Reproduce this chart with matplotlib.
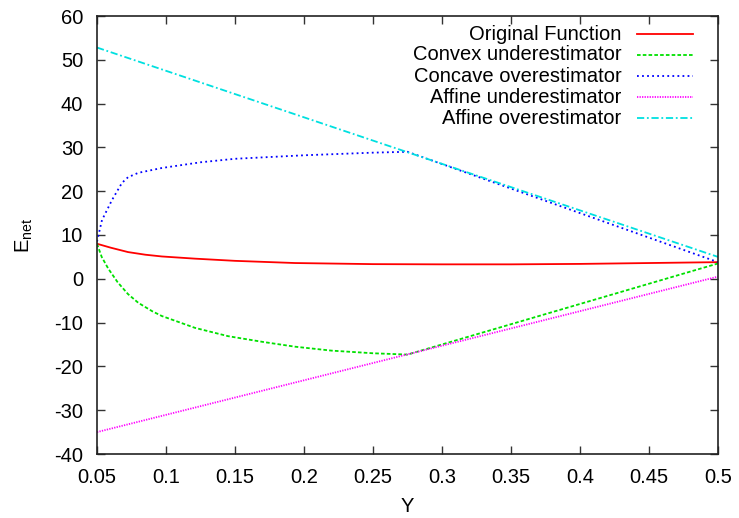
import matplotlib
matplotlib.use("Agg")
import matplotlib.pyplot as plt
from matplotlib.lines import Line2D

plt.rcParams['font.family'] = ['Liberation Sans', 'DejaVu Sans']
plt.rcParams['axes.unicode_minus'] = False

# values
y_orig = [0.05, 0.06, 0.0725, 0.085, 0.097, 0.121, 0.15, 0.1935, 0.25, 0.3, 0.35, 0.4, 0.45, 0.5]
e_orig = [8.0, 7.1, 6.1, 5.5, 5.1, 4.6, 4.1, 3.6, 3.35, 3.3, 3.3, 3.4, 3.6, 3.8]

y_convex = [0.05, 0.0534, 0.0582, 0.065, 0.0725, 0.08, 0.09, 0.097, 0.121, 0.145, 0.17,
            0.1935, 0.22, 0.25, 0.275, 0.5]
e_convex = [8.0, 5.0, 2.3, -0.8, -3.5, -5.5, -7.4, -8.5, -11.2, -13.1, -14.4,
            -15.5, -16.4, -17.0, -17.3, 3.5]

y_concave = [0.05, 0.0536, 0.0609, 0.0681, 0.0725, 0.08, 0.097, 0.125, 0.15, 0.2, 0.25, 0.275, 0.5]
e_concave = [8.5, 13.4, 18.0, 21.9, 23.2, 24.2, 25.3, 26.6, 27.4, 28.2, 28.8, 29.0, 3.8]

y_aff = [0.05, 0.5]
e_aff_under = [-35.0, 0.5]
e_aff_over = [52.8, 5.0]

labels = ["Original Function", "Convex underestimator", "Concave overestimator",
          "Affine underestimator", "Affine overestimator"]

fig = plt.figure(figsize=(7.39, 5.18), dpi=100)
ax = fig.add_axes([97 / 739, 1 - 454 / 518, 621 / 739, 438 / 518])

styles = [
    dict(color='#ff0000', linestyle='-'),
    dict(color='#00e000', linestyle=(0, (2, 1.2))),
    dict(color='#0000ff', linestyle=(0, (1, 1.8))),
    dict(color='#ff00ff', linestyle=(0, (0.7, 0.7))),
    dict(color='#00e0e0', linestyle=(0, (4, 1.5, 1, 1.5))),
]
series = [(y_orig, e_orig), (y_convex, e_convex), (y_concave, e_concave),
          (y_aff, e_aff_under), (y_aff, e_aff_over)]

for (xs, ys), st in zip(series, styles):
    ax.plot(xs, ys, linewidth=1.3, **st)

ax.set_xlim(0.05, 0.5)
ax.set_ylim(-40, 60)
ax.set_xticks([0.05, 0.1, 0.15, 0.2, 0.25, 0.3, 0.35, 0.4, 0.45, 0.5])
ax.set_xticklabels(["0.05", "0.1", "0.15", "0.2", "0.25", "0.3", "0.35", "0.4", "0.45", "0.5"])
ax.set_yticks(range(-40, 61, 10))
ax.tick_params(direction='in', top=True, right=True, length=6, width=1,
               labelsize=14.5, pad=10, color='#333333')
for sp in ax.spines.values():
    sp.set_linewidth(1.2)
    sp.set_color('#222222')

ax.set_xlabel("Y", fontsize=14.5)
ax.xaxis.set_label_coords(0.5, -0.098)
ax.set_ylabel(r"E$_{\mathregular{net}}$", fontsize=14.5)
ax.yaxis.set_label_coords(-0.1, 0.5)

# gnuplot-style key: right-aligned text, sample on the right
row_y = [0.958, 0.911, 0.863, 0.815, 0.767]
for lab, st, yy in zip(labels, styles, row_y):
    ax.text(0.845, yy, lab, transform=ax.transAxes, ha='right', va='center', fontsize=14.5)
    ax.add_line(Line2D([0.870, 0.960], [yy, yy], transform=ax.transAxes,
                       linewidth=1.3, **st))

fig.savefig("out.png", dpi=100)
